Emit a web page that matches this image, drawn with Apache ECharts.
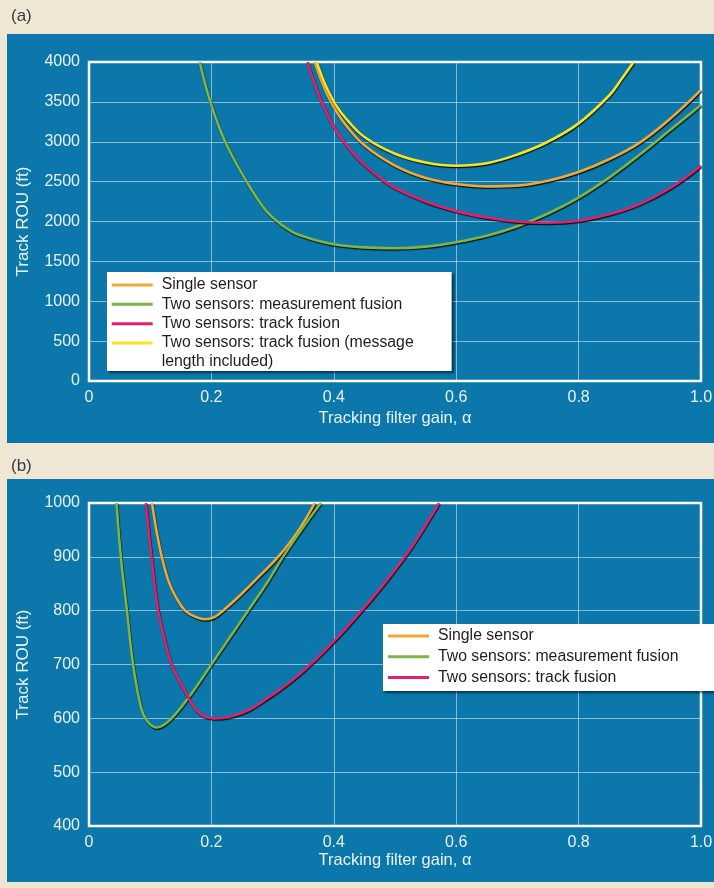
<!DOCTYPE html>
<html>
<head>
<meta charset="utf-8">
<script src="https://cdn.jsdelivr.net/npm/echarts@6/dist/echarts.min.js"></script>
<style>
  html, body { margin: 0; padding: 0; background: #efe6d3; }
  #chart { width: 714px; height: 888px; }
</style>
</head>
<body>
<div id="chart"></div>
<script>
// ---- Panel (a): track ROU (ft) against tracking filter gain ----
const gainSingleA = [0.369, 0.38, 0.39, 0.405, 0.42, 0.45, 0.5, 0.55, 0.6, 0.65, 0.7, 0.75, 0.8, 0.85, 0.9, 0.95, 1.0];
const rouSingleA  = [4000, 3760, 3580, 3370, 3205, 2955, 2700, 2545, 2470, 2440, 2450, 2510, 2620, 2780, 2990, 3290, 3650];

const gainMeasA = [0.181, 0.19, 0.2, 0.21, 0.225, 0.25, 0.28, 0.3, 0.33, 0.36, 0.4, 0.45, 0.5, 0.55, 0.6, 0.65, 0.7, 0.75, 0.8, 0.85, 0.9, 0.95, 1.0];
const rouMeasA  = [4000, 3720, 3460, 3240, 2960, 2600, 2230, 2050, 1880, 1790, 1715, 1675, 1665, 1685, 1740, 1820, 1940, 2100, 2300, 2550, 2840, 3150, 3460];

const gainTrackA = [0.357, 0.368, 0.38, 0.395, 0.41, 0.43, 0.45, 0.48, 0.5, 0.55, 0.6, 0.65, 0.7, 0.75, 0.8, 0.85, 0.9, 0.95, 1.0];
const rouTrackA  = [4000, 3740, 3500, 3260, 3070, 2870, 2710, 2520, 2420, 2250, 2130, 2050, 2000, 1985, 2010, 2090, 2220, 2420, 2700];

const gainMsgA = [0.372, 0.38, 0.39, 0.405, 0.42, 0.45, 0.5, 0.55, 0.6, 0.65, 0.7, 0.75, 0.8, 0.85, 0.87, 0.89];
const rouMsgA  = [4000, 3830, 3650, 3440, 3290, 3060, 2850, 2740, 2700, 2730, 2840, 3000, 3230, 3580, 3785, 4000];

// ---- Panel (b): close-up of the low-gain region ----
const gainSingleB = [0.103, 0.11, 0.119, 0.13, 0.142, 0.157, 0.175, 0.19, 0.205, 0.219, 0.25, 0.28, 0.309, 0.34, 0.369];
const rouSingleB  = [1000, 950, 900, 855, 825, 800, 788, 784, 788, 800, 832, 866, 900, 945, 1000];

const gainMeasB = [0.045, 0.052, 0.062, 0.072, 0.085, 0.095, 0.11, 0.125, 0.143, 0.167, 0.197, 0.23, 0.26, 0.29, 0.317, 0.35, 0.379];
const rouMeasB  = [1000, 900, 800, 700, 620, 595, 583, 590, 610, 645, 695, 750, 800, 850, 900, 955, 1000];

const gainTrackB = [0.093, 0.102, 0.113, 0.125, 0.135, 0.157, 0.18, 0.205, 0.23, 0.26, 0.29, 0.32, 0.35, 0.38, 0.41, 0.44, 0.47, 0.5, 0.53, 0.572];
const rouTrackB  = [1000, 900, 800, 740, 700, 650, 610, 600, 603, 615, 636, 660, 688, 720, 755, 793, 833, 876, 923, 1000];

// Axis ticks
const gainTicks = [0, 0.2, 0.4, 0.6, 0.8, 1.0];
const rouTicksA = [0, 500, 1000, 1500, 2000, 2500, 3000, 3500, 4000];
const rouTicksB = [400, 500, 600, 700, 800, 900, 1000];

const NAME_SINGLE = 'Single sensor';
const NAME_MEAS = 'Two sensors: measurement fusion';
const NAME_TRACK = 'Two sensors: track fusion';
const NAME_MSG = 'Two sensors: track fusion (message';

const COLORS = {
  single: '#f2a933',
  meas: '#7cb644',
  track: '#e2216c',
  msg: '#f7e423'
};

const PANEL_BLUE = '#0b77aa';
const TEXT_LIGHT = '#eaf3f8';
const FONT = '"Liberation Sans", Arial, Helvetica, sans-serif';

function zip(xs, ys) {
  return xs.map((x, i) => [x, ys[i]]);
}

function curve(name, color, xs, ys, axisIndex) {
  return {
    type: 'line',
    name: name,
    xAxisIndex: axisIndex,
    yAxisIndex: axisIndex,
    data: zip(xs, ys),
    smooth: 0.4,
    showSymbol: false,
    symbol: 'none',
    clip: true,
    itemStyle: { color: color },
    lineStyle: {
      color: color,
      width: 2.6,
      shadowColor: 'rgba(0,0,0,0.85)',
      shadowBlur: 1,
      shadowOffsetX: 0.6,
      shadowOffsetY: 1.2
    },
    emphasis: { disabled: true },
    silent: true
  };
}

function gainAxis(gridIndex, nameGap) {
  return {
    type: 'value',
    gridIndex: gridIndex,
    min: gainTicks[0],
    max: gainTicks[gainTicks.length - 1],
    interval: 0.2,
    name: 'Tracking filter gain, α',
    nameLocation: 'middle',
    nameGap: nameGap,
    nameTextStyle: { color: TEXT_LIGHT, fontSize: 16.5, fontFamily: FONT },
    axisLine: { show: false },
    axisTick: { show: false },
    axisLabel: {
      color: TEXT_LIGHT, fontSize: 16, fontFamily: FONT, margin: 9,
      formatter: v => (v === 0 ? '0' : v.toFixed(1))
    },
    splitLine: { show: true, lineStyle: { color: 'rgba(255,255,255,0.5)', width: 1 } }
  };
}

function rouAxis(gridIndex, ticks, step) {
  return {
    type: 'value',
    gridIndex: gridIndex,
    min: ticks[0],
    max: ticks[ticks.length - 1],
    interval: step,
    name: 'Track ROU (ft)',
    nameLocation: 'middle',
    nameGap: 57,
    nameTextStyle: { color: TEXT_LIGHT, fontSize: 17, fontFamily: FONT },
    axisLine: { show: false },
    axisTick: { show: false },
    axisLabel: {
      color: TEXT_LIGHT, fontSize: 16, fontFamily: FONT, margin: 9,
      formatter: v => String(v)
    },
    splitLine: { show: true, lineStyle: { color: 'rgba(255,255,255,0.5)', width: 1 } }
  };
}

function legendBox(left, top, names, lineHeight, padding) {
  return {
    show: true,
    left: left,
    top: top,
    orient: 'vertical',
    data: names,
    icon: 'rect',
    itemWidth: 41,
    itemHeight: 3,
    itemGap: 0,
    selectedMode: false,
    backgroundColor: '#ffffff',
    borderWidth: 0,
    padding: padding,
    shadowColor: 'rgba(0,0,0,0.55)',
    shadowBlur: 2,
    shadowOffsetX: 2,
    shadowOffsetY: 2,
    textStyle: {
      color: '#1e1e1e',
      fontSize: 15.8,
      fontFamily: FONT,
      lineHeight: lineHeight,
      padding: [0, 0, 0, 4]
    },
    z: 10
  };
}

const chart = echarts.init(document.getElementById('chart'), null, { renderer: 'canvas' });

const option = {
  animation: false,
  backgroundColor: '#efe6d3',
  graphic: [
    { type: 'rect', z: -10, shape: { x: 7, y: 34, width: 720, height: 409 }, style: { fill: PANEL_BLUE } },
    { type: 'rect', z: -10, shape: { x: 7, y: 479, width: 720, height: 403 }, style: { fill: PANEL_BLUE } },
    { type: 'text', z: 5, x: 11, y: 16, style: { text: '(a)', fill: '#3b3b3b', font: '17px ' + FONT, verticalAlign: 'middle' } },
    { type: 'text', z: 5, x: 11, y: 466, style: { text: '(b)', fill: '#3b3b3b', font: '17px ' + FONT, verticalAlign: 'middle' } },
    { type: 'text', z: 100, zlevel: 0, x: 161.7, y: 362, style: { text: 'length included)', fill: '#1e1e1e', font: '15.8px ' + FONT, verticalAlign: 'middle' } }
  ],
  grid: [
    { left: 89, top: 62, width: 612, height: 319, show: true, borderColor: '#ffffff', borderWidth: 2.5, backgroundColor: 'transparent', outerBoundsMode: 'none', containLabel: false },
    { left: 89, top: 503, width: 612, height: 323, show: true, borderColor: '#ffffff', borderWidth: 2.5, backgroundColor: 'transparent', outerBoundsMode: 'none', containLabel: false }
  ],
  xAxis: [gainAxis(0, 29), gainAxis(1, 26)],
  yAxis: [rouAxis(0, rouTicksA, 500), rouAxis(1, rouTicksB, 100)],
  legend: [
    legendBox(107, 272, [NAME_SINGLE, NAME_MEAS, NAME_TRACK, NAME_MSG], 19.3, [3.4, 38, 18.5, 4.7]),
    legendBox(383, 624, [NAME_SINGLE, NAME_MEAS, NAME_TRACK], 20.8, [1.5, 40, 3, 5])
  ],
  series: [
    curve(NAME_SINGLE, COLORS.single, gainSingleA, rouSingleA, 0),
    curve(NAME_MEAS, COLORS.meas, gainMeasA, rouMeasA, 0),
    curve(NAME_TRACK, COLORS.track, gainTrackA, rouTrackA, 0),
    curve(NAME_MSG, COLORS.msg, gainMsgA, rouMsgA, 0),
    curve(NAME_SINGLE, COLORS.single, gainSingleB, rouSingleB, 1),
    curve(NAME_MEAS, COLORS.meas, gainMeasB, rouMeasB, 1),
    curve(NAME_TRACK, COLORS.track, gainTrackB, rouTrackB, 1)
  ]
};

chart.setOption(option);
</script>
</body>
</html>
